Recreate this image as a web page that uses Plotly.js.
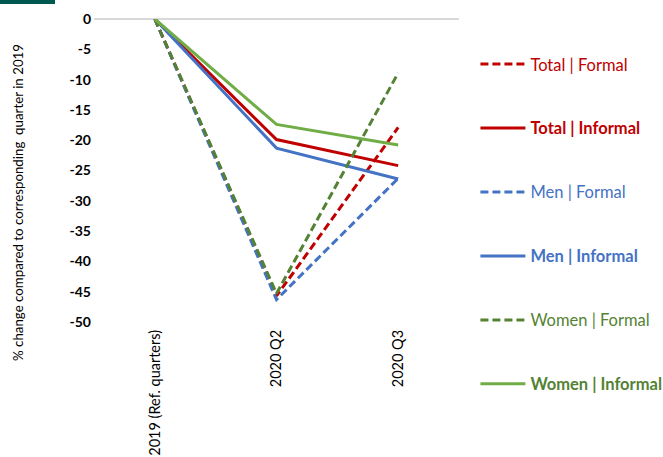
<!DOCTYPE html>
<html>
<head>
<meta charset="utf-8">
<script src="https://cdn.plot.ly/plotly-3.0.1.min.js"></script>
<style>html,body{margin:0;padding:0;background:#fff;}#chart{width:663px;height:457px;}</style>
</head>
<body>
<div id="chart"></div>
<script>
const categories = ["2019 (Ref. quarters)", "2020 Q2", "2020 Q3"];
const totalFormal = [0, -45.7, -17.9];
const totalInformal = [0, -19.9, -24.2];
const menFormal = [0, -46.3, -26.3];
const menInformal = [0, -21.3, -26.4];
const womenFormal = [0, -45.3, -8.9];
const womenInformal = [0, -17.4, -20.8];
const seriesNames = ["Total | Formal", "Total | Informal", "Men | Formal", "Men | Informal", "Women | Formal", "Women | Informal"];
const yTicks = [0, -5, -10, -15, -20, -25, -30, -35, -40, -45, -50];

const RED = "#C00000", BLUE = "#4472C4", GREEN_D = "#548235", GREEN = "#70AD47";
const DASH = "8px,4px";

function mk(y, i, color, textColor, dashed, bold) {
  const label = bold ? "<b>" + seriesNames[i] + "</b>" : seriesNames[i];
  return {
    x: categories, y: y, type: "scatter", mode: "lines",
    name: '<span style="color:' + textColor + '">' + label + '</span>',
    legendgroup: "g" + i,
    line: {color: color, width: 3, dash: dashed ? DASH : "solid"}
  };
}

const data = [
  mk(totalFormal, 0, RED, RED, true, false),
  mk(totalInformal, 1, RED, RED, false, true),
  mk(menFormal, 2, BLUE, BLUE, true, false),
  mk(menInformal, 3, BLUE, BLUE, false, true),
  mk(womenFormal, 4, GREEN_D, GREEN_D, true, false),
  mk(womenInformal, 5, GREEN, GREEN_D, false, true)
];

const layout = {
  width: 663, height: 457,
  margin: {l: 94, r: 204, t: 19, b: 135, autoexpand: false},
  paper_bgcolor: "#fff", plot_bgcolor: "#fff",
  font: {family: "Lato, 'Open Sans', sans-serif", color: "#000"},
  showlegend: true,
  legend: {
    x: 1.045, xanchor: "left", y: 0.908, yanchor: "top",
    tracegroupgap: 39.5, itemwidth: 45, maxheight: 440,
    font: {size: 16.5}, bgcolor: "rgba(0,0,0,0)",
    traceorder: "grouped"
  },
  xaxis: {
    type: "category", range: [-0.5, 2.5],
    showgrid: false, showline: false, zeroline: false, ticks: "",
    tickangle: -90, tickfont: {size: 14.5, color: "#000"},
    ticklabelstandoff: 4, fixedrange: true
  },
  yaxis: {
    range: [-50, 0], tickvals: yTicks, ticktext: yTicks.map(String),
    showgrid: false, showline: false, ticks: "",
    zeroline: true, zerolinecolor: "#D9D9D9", zerolinewidth: 1.5,
    tickfont: {size: 14, color: "#000", weight: "bold"},
    ticklabelstandoff: 2, fixedrange: true
  },
  shapes: [{
    type: "rect", xref: "paper", yref: "paper",
    x0: -94/365, x1: -39/365, y0: 1 + 15/303, y1: 1 + 19/303,
    fillcolor: "#00594F", line: {width: 0}
  }],
  annotations: [{
    xref: "paper", yref: "paper",
    x: (18 - 94)/365, y: 1 - (203 - 19)/303,
    xanchor: "center", yanchor: "middle",
    text: "% change compared to corresponding  quarter in 2019",
    textangle: -90, showarrow: false,
    font: {size: 13.3, color: "#000"}
  }]
};

Plotly.newPlot("chart", data, layout, {displayModeBar: false, staticPlot: true});
</script>
</body>
</html>
